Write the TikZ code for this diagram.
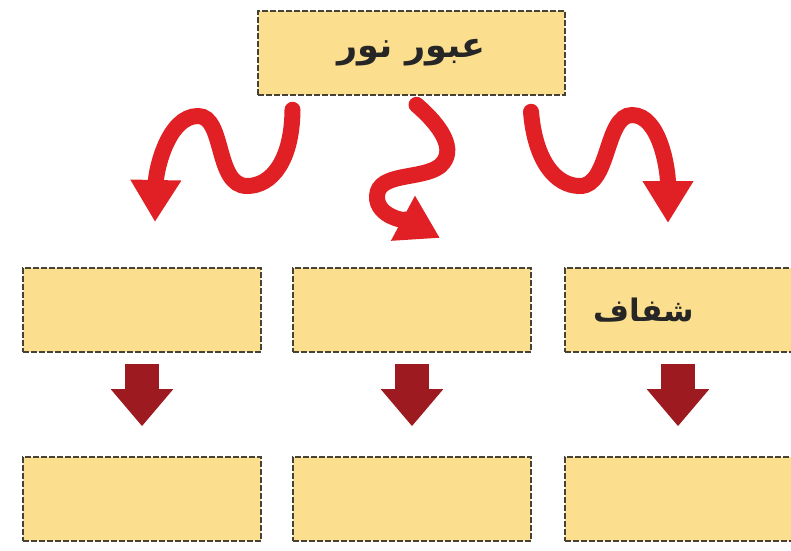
\documentclass[tikz,border=0pt]{standalone}
\usepackage{fontspec}
\newfontfamily\arabicfont[Script=Arabic]{DejaVu Sans}
\TeXXeTstate=1
\usetikzlibrary{arrows.meta}

\definecolor{boxfill}{RGB}{252,223,142}
\definecolor{boxline}{RGB}{70,66,54}
\definecolor{wavered}{RGB}{224,32,36}
\definecolor{blockred}{RGB}{156,26,32}

\begin{document}
\begin{tikzpicture}[x=1pt, y=-1pt,
  box/.style={rectangle, draw=boxline, fill=boxfill, line width=1.6pt, dash pattern=on 6pt off 2pt,
    minimum width=238pt, minimum height=84pt, inner sep=0pt, text=black!85,
    font=\arabicfont\bfseries\fontsize{31}{35}\selectfont},
  wave/.style={draw=wavered, line width=16pt, line cap=round, -{Triangle[width=48pt,length=42pt]}},
  down/.style={draw=blockred, line width=34pt, -{Triangle[width=60pt,length=37pt]}, shorten <=11pt, shorten >=30pt},
]
\clip (0,0) rectangle (791,550);
\fill[white] (0,0) rectangle (791,550);

% === top ===
\node[box, minimum width=307pt, font=\arabicfont\bfseries\fontsize{35}{40}\selectfont] (top) at (411.5,53) {\beginR عبور نور\endR};

% === middle row ===
\node[box] (m1) at (142,310) {};
\node[box] (m2) at (412,310) {};
\node[box] (m3) at (684,310) {{\beginR شفاف\endR}\hspace*{80pt}};

% === bottom row ===
\node[box] (b1) at (142,499) {};
\node[box] (b2) at (412,499) {};
\node[box] (b3) at (684,499) {};

% wavy arrows
\coordinate (lt) at (155,222);
\coordinate (mt) at (440,238);
\coordinate (rt) at (668,223);

\draw[wave] ([xshift=-119pt,yshift=-14pt]top.south) .. controls (292,160) and (272,186) .. (247,186)
  .. controls (215,186) and (225,116) .. (198,116) .. controls (168,116) and (156,170) .. (lt);
\draw[wave] ([xshift=5pt,yshift=-9pt]top.south) .. controls (440,125) and (458,150) .. (440,166)
  .. controls (422,180) and (378,172) .. (377,196) .. controls (376,218) and (410,222) .. (mt);
\draw[wave] ([xshift=119.5pt,yshift=-16pt]top.south) .. controls (535,160) and (555,186) .. (580,186)
  .. controls (610,186) and (605,115) .. (632,115) .. controls (660,115) and (668,170) .. (rt);

% block arrows
\draw[down] (m1) -- (b1);
\draw[down] (m2) -- (b2);
\draw[down] ([xshift=-6pt]m3.south) -- ([xshift=-6pt]b3.north);
\end{tikzpicture}
\end{document}
